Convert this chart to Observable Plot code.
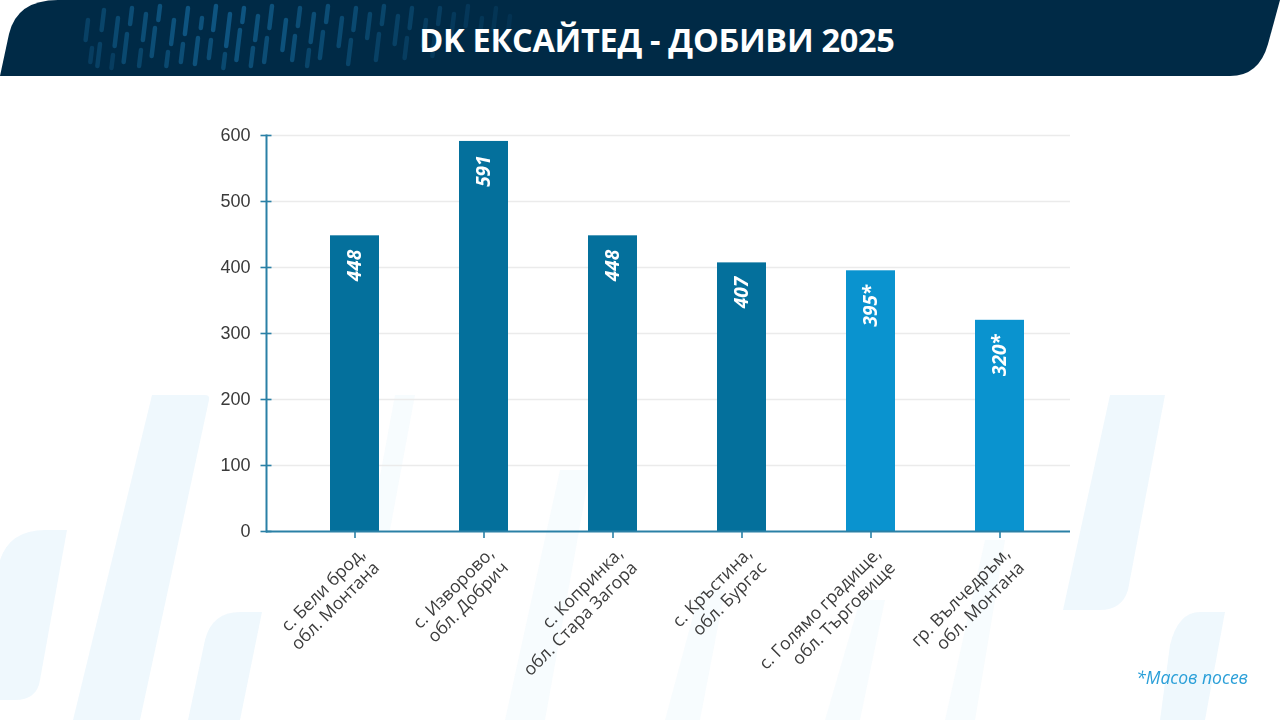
<!DOCTYPE html>
<html><head><meta charset="utf-8">
<script src="https://cdn.jsdelivr.net/npm/d3@7"></script>
<script src="https://cdn.jsdelivr.net/npm/@observablehq/plot@0.6"></script>
<style>
html,body{margin:0;padding:0;background:#fff;}
#page{position:relative;width:1280px;height:720px;overflow:hidden;font-family:"Open Sans",sans-serif;background:#fff;}
#bg{position:absolute;left:0;top:0;}
#title{position:absolute;top:0;left:0;width:1280px;height:76px;line-height:80px;text-align:center;color:#fff;font-weight:700;font-size:32.5px;margin:0;padding-left:34px;box-sizing:border-box;letter-spacing:-0.3px;}
#chart{position:absolute;left:0;top:80px;}
#note{position:absolute;right:32px;top:665px;font-style:italic;color:#2a9fd8;font-size:17.5px;}
</style></head>
<body>
<div id="page">
<svg id="bg" width="1280" height="720">
  <g fill="#e9f5fc" opacity="0.7">
    <path d="M152,395 L205,395 Q210,395 209,400 L140,720 L73,720 Z"/>
    <path d="M45,530 L67,530 L40,680 Q37,700 15,700 L0,700 L0,560 Q10,530 45,530 Z"/>
    <path d="M240,612 L262,612 L240,720 L188,720 L205,640 Q212,612 240,612 Z"/>
    <path d="M395,395 L415,395 L390,530 L370,530 Z" opacity="0.5"/>
    <path d="M560,470 L590,470 L545,720 L505,720 Z" opacity="0.5"/>
    <path d="M700,590 L725,590 L700,720 L665,720 Z" opacity="0.5"/>
    <path d="M860,600 L885,600 L860,720 L825,720 Z" opacity="0.5"/>
    <path d="M985,540 L1005,540 L975,720 L945,720 Z" opacity="0.5"/>
    <path d="M1110,395 L1165,395 L1128,590 Q1122,610 1100,610 L1063,610 Z"/>
    <path d="M1200,612 L1225,612 L1205,720 L1160,720 L1170,645 Q1178,612 1200,612 Z"/>
  </g>
  <path d="M0,76 L9,34 Q17,0 58,0 L1280,0 L1268,44 Q1259,76 1230,76 Z" fill="#002a46"/>
  <g id="stripes" stroke-linecap="round" stroke-width="4.5"></g>
</svg>
<div id="title">DK ЕКСАЙТЕД - ДОБИВИ 2025</div>
<div id="chart"></div>
<div id="note">*Масов посев</div>
</div>
<script>
// decorative header stripes (hand placed)
const stripes = [
 [88,20,40,0.3],[92,48,62,0.25],[104,10,30,0.35],[100,44,66,0.3],[118,18,46,0.4],[113,55,68,0.25],
 [132,8,24,0.45],[127,34,62,0.4],[146,14,40,0.45],[141,50,66,0.35],[160,6,20,0.5],[155,28,56,0.45],
 [174,20,44,0.5],[168,52,66,0.4],[188,8,34,0.55],[183,44,62,0.45],[202,18,28,0.5],[198,38,64,0.5],
 [216,6,30,0.55],[211,40,58,0.45],[230,14,46,0.55],[225,54,68,0.4],[244,8,22,0.55],[240,30,60,0.5],
 [258,16,40,0.5],[253,48,66,0.45],[272,6,28,0.5],[267,38,62,0.45],[286,20,50,0.5],[300,8,26,0.45],
 [295,36,60,0.45],[314,14,42,0.45],[309,50,66,0.35],[328,6,22,0.45],[323,32,58,0.4],[342,18,46,0.4],
 [356,8,30,0.4],[351,40,64,0.35],[370,14,38,0.35],[384,6,24,0.35],[379,34,60,0.3],[398,16,44,0.3],
 [412,8,28,0.3],[407,38,58,0.25],[426,20,46,0.25],[440,8,24,0.25],[435,34,56,0.2],[454,14,40,0.2],
 [468,6,26,0.18],[482,18,44,0.16],[496,8,30,0.14],[510,16,40,0.12]
];
const sg = document.getElementById("stripes");
for (const [x, y1, y2, o] of stripes) {
  const l = document.createElementNS("http://www.w3.org/2000/svg", "line");
  l.setAttribute("x1", x); l.setAttribute("y1", y1);
  l.setAttribute("x2", x - (y2 - y1) * 0.12); l.setAttribute("y2", y2);
  l.setAttribute("stroke", "#1a77b0"); l.setAttribute("stroke-opacity", o);
  sg.appendChild(l);
}

// ---- data ----
const categories = [
  "с. Бели брод,\nобл. Монтана",
  "с. Изворово,\nобл. Добрич",
  "с. Копринка,\nобл. Стара Загора",
  "с. Кръстина,\nобл. Бургас",
  "с. Голямо градище,\nобл. Търговище",
  "гр. Вълчедръм,\nобл. Монтана"
];
const values = [448, 591, 448, 407, 395, 320];
const valueLabels = ["448", "591", "448", "407", "395*", "320*"];
const sowing = ["normal", "normal", "normal", "normal", "mass", "mass"];
const yTicks = [0, 100, 200, 300, 400, 500, 600];

const data = categories.map((c, i) => ({cat: c, value: values[i], label: valueLabels[i], group: sowing[i]}));
const axisColor = "#2a80a6";

const chart = Plot.plot({
  width: 1280, height: 640,
  marginLeft: 266, marginRight: 210, marginTop: 55, marginBottom: 189,
  style: {background: "transparent", fontFamily: "Open Sans, sans-serif", overflow: "visible"},
  x: {domain: categories, range: [290, 1064], paddingInner: 0.62, paddingOuter: 0.31, axis: null},
  y: {domain: [0, 600], axis: null},
  color: {domain: ["normal", "mass"], range: ["#04709c", "#0a93cf"]},
  marks: [
    Plot.ruleY(yTicks.filter(d => d > 0), {stroke: "#ebebeb", strokeWidth: 1.3}),
    Plot.barY(data, {x: "cat", y: "value", fill: "group"}),
    Plot.text(data, {x: "cat", y: "value", text: "label", rotate: -90, textAnchor: "end", dy: 14,
      fill: "white", fontWeight: 700, fontStyle: "italic", fontSize: 19}),
    Plot.ruleY([0], {stroke: axisColor, strokeWidth: 2}),
    Plot.frame({anchor: "left", stroke: axisColor, strokeWidth: 2}),
    Plot.axisY({ticks: yTicks, tickSize: 11, dx: 5.5, tickFormat: () => "", stroke: axisColor, strokeWidth: 1.6, label: null}),
    Plot.axisY({ticks: yTicks, tickSize: 0, tickPadding: 16, fontSize: 18, fill: "#3a3a3a",
      fontFamily: "Liberation Sans, Arial, sans-serif", label: null}),
    Plot.axisX({tickSize: 7, tickFormat: () => "", stroke: axisColor, strokeWidth: 1.6, label: null}),
    Plot.text(data, {x: "cat", y: 0, text: "cat", rotate: -45, textAnchor: "end", lineAnchor: "top",
      dx: 1, dy: 13, fontSize: 17.5, fill: "#3c3c3c", lineHeight: 1.15})
  ]
});
document.getElementById("chart").appendChild(chart);
</script>
</body></html>
